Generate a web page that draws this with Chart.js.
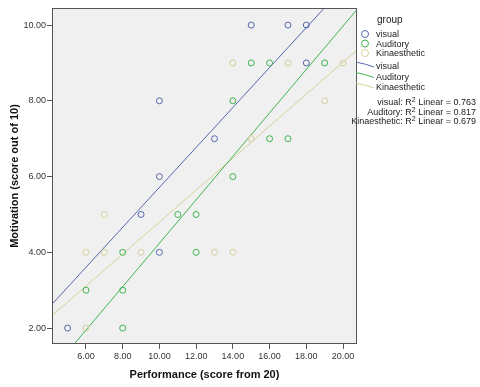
<!DOCTYPE html>
<html>
<head>
<meta charset="utf-8">
<script src="https://cdn.jsdelivr.net/npm/chart.js@4"></script>
<style>
  body { margin: 0; background: #fff; }
  #wrap { position: relative; width: 480px; height: 387px; font-family: "Liberation Sans", Arial, sans-serif; }
  #legend { position: absolute; left: 0; top: 0; width: 480px; height: 387px; pointer-events: none; color: #222; font-size: 9px; }
  #legend .t { position: absolute; white-space: nowrap; line-height: 10px; }
  #legend svg { position: absolute; left: 0; top: 0; }
  #legend sup { font-size: 7px; vertical-align: 3px; line-height: 0; }
</style>
</head>
<body>
<div id="wrap">
  <canvas id="scatterChart" width="480" height="387"></canvas>
  <div id="legend"></div>
</div>
<script>
// group data (Performance x, Motivation y)
var visualX = [5, 9, 10, 10, 10, 13, 15, 17, 18, 18];
var visualY = [2, 5, 4, 6, 8, 7, 10, 10, 10, 9];
var auditoryX = [6, 8, 8, 8, 11, 12, 12, 14, 14, 15, 16, 16, 17, 19];
var auditoryY = [3, 2, 3, 4, 5, 4, 5, 6, 8, 9, 9, 7, 7, 9];
var kinaesX = [6, 6, 7, 7, 9, 13, 14, 14, 15, 17, 19, 20];
var kinaesY = [2, 4, 4, 5, 4, 4, 4, 9, 7, 9, 8, 9];

// fit lines, end points
var visualFit = [[4.15, 2.63], [18.98, 10.45]];
var auditoryFit = [[5.36, 1.58], [20.76, 10.41]];
var kinaesFit = [[4.15, 2.33], [20.76, 9.34]];

var groups = ["visual", "Auditory", "Kinaesthetic"];
var rSquared = ["0.763", "0.817", "0.679"];
var xTicks = [6, 8, 10, 12, 14, 16, 18, 20];
var yTicks = [2, 4, 6, 8, 10];

var colors = ["#5568ae", "#3fb552", "#d6d09c"];

function pts(xs, ys) {
    return xs.map(function (x, i) { return { x: x, y: ys[i] }; });
}
function line(p) {
    return p.map(function (q) { return { x: q[0], y: q[1] }; });
}

var plotBox = {
    id: 'plotBox',
    beforeDraw: function (chart) {
        var c = chart.ctx, a = chart.chartArea;
        c.save();
        c.fillStyle = '#f0f0f0';
        c.fillRect(a.left, a.top, a.right - a.left, a.bottom - a.top);
        c.restore();
    },
    afterDraw: function (chart) {
        var c = chart.ctx, a = chart.chartArea;
        c.save();
        c.strokeStyle = '#555';
        c.lineWidth = 1;
        c.strokeRect(a.left + 0.5, a.top + 0.5, a.right - a.left - 1, a.bottom - a.top - 1);
        c.restore();
    }
};

var ctx = document.getElementById('scatterChart').getContext('2d');

var scatter = new Chart(ctx, {
    type: 'scatter',
    data: {
        datasets: [
            { label: groups[0], data: pts(visualX, visualY), borderColor: colors[0], backgroundColor: 'transparent', pointRadius: 3, borderWidth: 1 },
            { label: groups[1], data: pts(auditoryX, auditoryY), borderColor: colors[1], backgroundColor: 'transparent', pointRadius: 3, borderWidth: 1 },
            { label: groups[2], data: pts(kinaesX, kinaesY), borderColor: colors[2], backgroundColor: 'transparent', pointRadius: 3, borderWidth: 1 },
            { type: 'line', label: groups[0], data: line(visualFit), borderColor: colors[0], borderWidth: 1, pointRadius: 0, fill: false },
            { type: 'line', label: groups[1], data: line(auditoryFit), borderColor: colors[1], borderWidth: 1, pointRadius: 0, fill: false },
            { type: 'line', label: groups[2], data: line(kinaesFit), borderColor: colors[2], borderWidth: 1, pointRadius: 0, fill: false }
        ]
    },
    options: {
        responsive: false,
        animation: false,
        layout: { padding: { left: 0, top: 8, right: 123, bottom: 0 } },
        plugins: { legend: { display: false }, tooltip: { enabled: false } },
        scales: {
            x: {
                type: 'linear',
                min: 4.15,
                max: 20.76,
                afterBuildTicks: function (s) { s.ticks = xTicks.map(function (v) { return { value: v }; }); },
                afterFit: function (s) { s.height = 43; },
                border: { display: false },
                grid: { drawOnChartArea: false, drawTicks: true, tickLength: 5, color: '#555' },
                ticks: { color: '#333', font: { family: 'Liberation Sans', size: 9 }, padding: 2, maxRotation: 0,
                         callback: function (v) { return v.toFixed(2); } },
                title: { display: true, text: 'Performance (score from 20)', color: '#111',
                         font: { family: 'Liberation Sans', size: 11, weight: 'bold' }, padding: { top: 0, bottom: 5 } }
            },
            y: {
                type: 'linear',
                min: 1.58,
                max: 10.45,
                afterBuildTicks: function (s) { s.ticks = yTicks.map(function (v) { return { value: v }; }); },
                afterFit: function (s) { s.width = 52; },
                border: { display: false },
                grid: { drawOnChartArea: false, drawTicks: true, tickLength: 5, color: '#555' },
                ticks: { color: '#333', font: { family: 'Liberation Sans', size: 9 }, padding: 1,
                         callback: function (v) { return v.toFixed(2); } },
                title: { display: true, text: 'Motivation (score out of 10)', color: '#111',
                         font: { family: 'Liberation Sans', size: 11, weight: 'bold' }, padding: { top: 8, bottom: 0 } }
            }
        }
    },
    plugins: [plotBox]
});

// legend on the right, as in the original
var lg = document.getElementById('legend');
var html = '<svg width="480" height="387">';
var circleY = [34, 43.5, 53], lineY = [66, 76.5, 87];
for (var i = 0; i < 3; i++) {
    html += '<circle cx="365" cy="' + circleY[i] + '" r="3.5" fill="none" stroke="' + colors[i] + '" stroke-width="1"/>';
    html += '<path d="M356 ' + (lineY[i] - 4) + ' Q366 ' + (lineY[i] - 2) + ' 374 ' + (lineY[i] + 1) + '" fill="none" stroke="' + colors[i] + '" stroke-width="1"/>';
}
html += '</svg>';
html += '<div class="t" style="left:377px;top:15px;font-size:10px">group</div>';
for (var j = 0; j < 3; j++) {
    html += '<div class="t" style="left:376px;top:' + (circleY[j] - 5) + 'px">' + groups[j] + '</div>';
    html += '<div class="t" style="left:376px;top:' + (lineY[j] - 5) + 'px">' + groups[j] + '</div>';
}
var rY = [97, 106.5, 116];
for (var k = 0; k < 3; k++) {
    html += '<div class="t" style="right:4px;top:' + rY[k] + 'px;text-align:right">' + groups[k] + ': R<sup>2</sup> Linear = ' + rSquared[k] + '</div>';
}
lg.innerHTML = html;
</script>
</body>
</html>
